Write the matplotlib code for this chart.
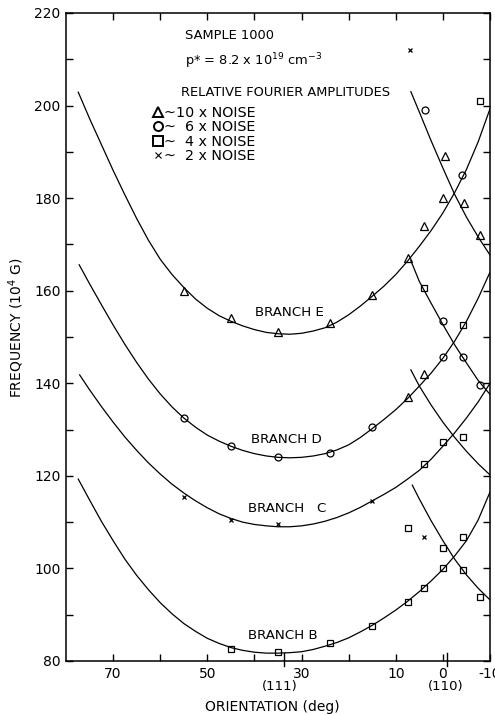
import matplotlib
matplotlib.use("Agg")
import matplotlib.pyplot as plt
import matplotlib.transforms as mtransforms

plt.rcParams['font.family'] = ['DejaVu Sans']

# ---------------- data ----------------
# Fitted curves: ascending branches (orientation deg, frequency 1e4 G)
branch_e_x = [77.4, 75, 72.5, 70, 67.5, 65, 62.5, 60, 57.5, 55, 52.5, 50, 47.5, 45, 42.5, 40, 37.5, 35,
              32.5, 30, 27.5, 25, 22.5, 20, 17.5, 15, 12.5, 10, 7.5, 5, 2.5, 0, -2.5, -5, -7.5, -10]
branch_e_y = [202.9, 197.2, 191.6, 186.0, 180.7, 175.6, 170.9, 166.8, 163.5, 160.7, 158.2, 156.2, 154.6,
              153.4, 152.4, 151.6, 151.0, 150.7, 150.6, 150.8, 151.3, 152.0, 153.2, 154.8, 156.7, 158.8,
              161.0, 163.5, 166.4, 169.6, 173.0, 176.8, 181.2, 186.2, 192.2, 199.3]

branch_d_x = [77.2, 75, 72.5, 70, 67.5, 65, 62.5, 60, 57.5, 55, 52.5, 50, 47.5, 45, 42.5, 40, 37.5, 35,
              32.5, 30, 27.5, 25, 22.5, 20, 17.5, 15, 12.5, 10, 7.5, 5, 2.5, 0, -2.5, -5, -7.5, -10]
branch_d_y = [165.6, 161.5, 157.0, 152.6, 148.4, 144.5, 140.9, 137.7, 134.9, 132.5, 130.5, 128.8, 127.5,
              126.4, 125.5, 124.8, 124.3, 124.0, 123.9, 124.0, 124.3, 124.8, 125.6, 126.7, 128.3, 130.2,
              132.2, 134.3, 136.7, 139.4, 142.2, 145.4, 149.1, 153.4, 158.4, 164.0]

branch_c_x = [77.1, 75, 72.5, 70, 67.5, 65, 62.5, 60, 57.5, 55, 52.5, 50, 47.5, 45, 42.5, 40, 37.5, 35,
              32.5, 30, 27.5, 25, 22.5, 20, 17.5, 15, 12.5, 10, 7.5, 5, 2.5, 0, -2.5, -5, -7.5, -10]
branch_c_y = [141.8, 138.6, 135.0, 131.6, 128.4, 125.5, 122.8, 120.4, 118.2, 116.3, 114.6, 113.1, 111.8,
              110.8, 110.0, 109.5, 109.2, 109.0, 109.0, 109.2, 109.6, 110.2, 111.0, 112.0, 113.2, 114.6,
              116.0, 117.5, 119.3, 121.2, 123.6, 126.4, 129.3, 132.5, 136.0, 140.0]

branch_b_x = [77.4, 75, 72.5, 70, 67.5, 65, 62.5, 60, 57.5, 55, 52.5, 50, 47.5, 45, 42.5, 40, 37.5, 35,
              32.5, 30, 27.5, 25, 22.5, 20, 17.5, 15, 12.5, 10, 7.5, 5, 2.5, 0, -2.5, -5, -7.5, -10]
branch_b_y = [119.3, 114.8, 110.2, 106.0, 102.0, 98.5, 95.4, 92.6, 90.2, 88.1, 86.4, 84.9, 83.8, 82.9,
              82.3, 81.9, 81.7, 81.7, 81.8, 82.0, 82.5, 83.2, 84.0, 85.0, 86.3, 87.7, 89.3, 91.0, 92.9,
              95.0, 97.3, 99.8, 102.7, 106.0, 110.5, 116.5]

# Descending curves near (110)
desc_x = [6.8, 5, 2.5, 0, -2.5, -5, -7.5, -10]
desc1_y = [203.0, 198.6, 192.4, 186.5, 180.8, 175.9, 171.6, 167.7]
desc2_y = [166.5, 162.0, 157.3, 152.7, 148.3, 144.4, 140.6, 137.6]
desc3_y = [142.9, 139.4, 135.3, 131.6, 128.3, 125.3, 122.6, 120.2]
desc4_x = [6.5, 5, 2.5, 0, -2.5, -5, -7.5, -10]
desc4_y = [118.0, 115.0, 110.3, 106.0, 102.0, 98.6, 95.7, 93.2]

# Measured points by relative Fourier amplitude
tri_x = [55, 45, 35, 24, 15, 7.5, 4, 0, -0.5, -4.4, -7.8, 7.5, 4]
tri_y = [160, 154, 151, 153, 159, 167, 174, 180, 189, 179, 172, 137, 142]

circ_x = [55, 45, 35, 24, 15, 0, 0, -4.2, -7.8, 3.7, -4.1]
circ_y = [132.5, 126.5, 124, 125, 130.5, 145.6, 153.5, 145.6, 139.7, 199, 185]

sq_x = [-7.8, 4, -4.2, 4, 0, -4.2, 45, 35, 24, 15, 7.5, 4, 0, 0, -4.2, -4.2, -7.8, 7.5]
sq_y = [201, 160.5, 152.6, 122.5, 127.4, 128.3, 82.7, 82, 83.8, 87.6, 92.7, 95.8, 100, 104.5,
        99.7, 106.7, 93.8, 108.7]

cross_x = [7, 55, 45, 35, 15, 4]
cross_y = [212, 115.5, 110.5, 109.6, 114.6, 106.7]

x_ticks = [70, 60, 50, 40, 30, 20, 10, 0, -10]
x_ticklabels = ['70', '', '50', '', '30', '', '10', '0', '-10']
y_ticks = [80, 90, 100, 110, 120, 130, 140, 150, 160, 170, 180, 190, 200, 210, 220]
y_ticklabels = ['80', '', '100', '', '120', '', '140', '', '160', '', '180', '', '200', '', '220']

branch_labels = ['BRANCH E', 'BRANCH D', 'BRANCH   C', 'BRANCH B']
legend_labels = ['~10 x NOISE', '~  6 x NOISE', '~  4 x NOISE', '~  2 x NOISE']

# ---------------- figure ----------------
fig = plt.figure(figsize=(4.95, 7.15), dpi=100)
ax = fig.add_axes([66 / 495, 54 / 715, 424 / 495, 648 / 715])
ax.set_xlim(80, -10)
ax.set_ylim(80, 220)

lw = 0.9
for xs, ys in [(branch_e_x, branch_e_y), (branch_d_x, branch_d_y),
               (branch_c_x, branch_c_y), (branch_b_x, branch_b_y),
               (desc_x, desc1_y), (desc_x, desc2_y), (desc_x, desc3_y),
               (desc4_x, desc4_y)]:
    ax.plot(xs, ys, color='black', lw=lw)

mk = dict(linestyle='none', mfc='none', mec='black', mew=0.9)
ax.plot(tri_x, tri_y, marker='^', ms=5.5, **mk)
ax.plot(circ_x, circ_y, marker='o', ms=5, **mk)
ax.plot(sq_x, sq_y, marker='s', ms=5, **mk)
ax.plot(cross_x, cross_y, marker='x', ms=3.5, linestyle='none', color='black', mew=0.9)

# axes styling
for s in ax.spines.values():
    s.set_linewidth(1.1)
ax.set_xticks(x_ticks)
ax.set_xticklabels(x_ticklabels)
ax.set_yticks(y_ticks)
ax.set_yticklabels(y_ticklabels)
ax.tick_params(direction='in', length=5, width=1.0, top=True, right=True,
               labelsize=10, pad=4)

ax.set_ylabel('FREQUENCY (10$^4$ G)', fontsize=10)
ax.yaxis.set_label_coords(-0.094, 0.514)

# orientation markers and labels under the axis
trans = mtransforms.blended_transform_factory(ax.transData, ax.transAxes)
for xv in [33.8, -0.9]:
    ax.plot([xv, xv], [-0.007, 0.013], transform=trans, color='black', lw=1.0, clip_on=False)
ax.text(34.7, -0.040, '(111)', transform=trans, ha='center', va='center', fontsize=9.5)
ax.text(-0.7, -0.040, '(110)', transform=trans, ha='center', va='center', fontsize=9.5)
ax.text(0.486, -0.071, 'ORIENTATION (deg)', transform=ax.transAxes, ha='center',
        va='center', fontsize=10)

# annotations
fs = 9.4
ax.text(54.8, 215.2, 'SAMPLE 1000', fontsize=fs, ha='left', va='center')
ax.text(54.8, 208.8, 'p* = 8.2 x 10$^{19}$ cm$^{-3}$', fontsize=fs, ha='left', va='baseline')
ax.text(55.6, 202.1, 'RELATIVE FOURIER AMPLITUDES', fontsize=fs, ha='left', va='baseline')

leg_y = [197.6, 194.5, 191.3, 188.2]
leg_markers = ['^', 'o', 's', 'x']
for yy, m, lab in zip(leg_y, leg_markers, legend_labels):
    if m == 'x':
        ax.plot([60.5], [yy + 1.1], marker='x', ms=4.5, color='black', mew=0.8)
    else:
        ax.plot([60.5], [yy + 1.1], marker=m, ms=6.5, mfc='none', mec='black', mew=1.4)
    ax.text(59.3, yy, lab, fontsize=10.3, ha='left', va='baseline')

branch_pos = [(32.6, 155.2), (33.2, 127.8), (33.0, 112.9), (34.0, 85.6)]
for (bx, by), lab in zip(branch_pos, branch_labels):
    ax.text(bx, by, lab, fontsize=9.6, ha='center', va='center')

fig.savefig('out.png', dpi=100)
